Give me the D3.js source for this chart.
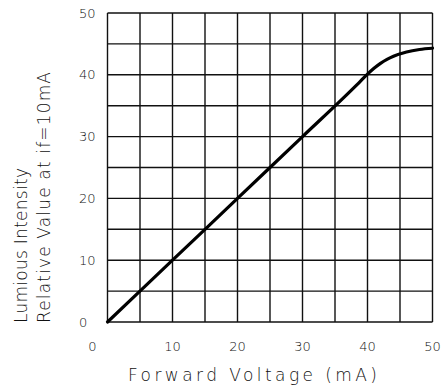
<!DOCTYPE html>
<html>
<head>
<meta charset="utf-8">
<script src="https://cdn.jsdelivr.net/npm/d3@7"></script>
<style>
  body { margin: 0; background: #fff; }
  text { font-family: "DejaVu Sans", sans-serif; font-weight: 200; fill: #111; }
</style>
</head>
<body>
<svg id="chart" width="444" height="389"></svg>
<script>
// forward current (mA) vs relative luminous intensity
const current = [0, 10, 20, 30, 38, 39, 40, 41, 42, 43, 44, 46, 48, 50];
const intensity = [0, 10, 20, 30, 38, 39.05, 40.1, 41.05, 41.85, 42.5, 43.0, 43.7, 44.1, 44.3];
const xTickLabels = [0, 10, 20, 30, 40, 50];
const yTickLabels = [0, 10, 20, 30, 40, 50];
const gridSteps = [0, 5, 10, 15, 20, 25, 30, 35, 40, 45, 50];

const svg = d3.select('#chart');
const plotLeft = 107.5, plotRight = 432.5, plotTop = 13, plotBottom = 322;

const x = d3.scaleLinear().domain([0, 50]).range([plotLeft, plotRight]);
const y = d3.scaleLinear().domain([0, 50]).range([plotBottom, plotTop]);

// grid
const grid = svg.append('g').attr('stroke', '#111').attr('stroke-width', 1.4);
grid.selectAll('line.v')
  .data(gridSteps)
  .join('line')
  .attr('class', 'v')
  .attr('x1', d => x(d)).attr('x2', d => x(d))
  .attr('y1', plotTop).attr('y2', plotBottom);
grid.selectAll('line.h')
  .data(gridSteps)
  .join('line')
  .attr('class', 'h')
  .attr('y1', d => y(d)).attr('y2', d => y(d))
  .attr('x1', plotLeft).attr('x2', plotRight);

// curve
const line = d3.line()
  .x((d, i) => x(current[i]))
  .y(d => y(d))
  .curve(d3.curveMonotoneX);

svg.append('path')
  .datum(intensity)
  .attr('fill', 'none')
  .attr('stroke', '#000')
  .attr('stroke-width', 3.2)
  .attr('stroke-linecap', 'round')
  .attr('d', line);

// tick labels
svg.append('g').selectAll('text')
  .data(xTickLabels)
  .join('text')
  .attr('x', d => x(d))
  .attr('dx', d => d === 0 ? -15 : 0)
  .attr('y', 351)
  .attr('text-anchor', 'middle')
  .attr('font-size', 13)
  .text(d => d);

svg.append('g').selectAll('text')
  .data(yTickLabels)
  .join('text')
  .attr('x', 79)
  .attr('y', d => y(d))
  .attr('dy', '0.35em')
  .attr('text-anchor', 'start')
  .attr('font-size', 13)
  .text(d => d);

// axis titles
svg.append('text')
  .attr('x', 128)
  .attr('y', 381)
  .attr('font-size', 17)
  .attr('textLength', 249)
  .attr('lengthAdjust', 'spacing')
  .text('Forward Voltage (mA)');

svg.append('text')
  .attr('transform', 'translate(27,323) rotate(-90)')
  .attr('font-size', 17)
  .attr('textLength', 155)
  .attr('lengthAdjust', 'spacing')
  .text('Lumious Intensity');

svg.append('text')
  .attr('transform', 'translate(50,323) rotate(-90)')
  .attr('font-size', 17)
  .attr('textLength', 251)
  .attr('lengthAdjust', 'spacing')
  .text('Relative Value at if=10mA');
</script>
</body>
</html>
